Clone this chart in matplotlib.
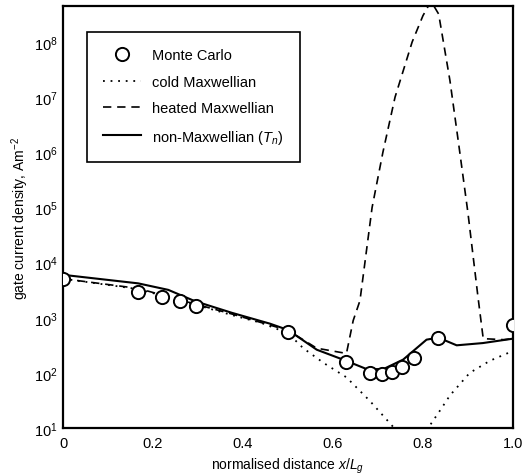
import matplotlib
matplotlib.use("Agg")
import matplotlib.pyplot as plt
from matplotlib.ticker import NullLocator, FixedLocator, FixedFormatter

plt.rcParams['font.family'] = ['Liberation Sans', 'DejaVu Sans']
plt.rcParams['mathtext.fontset'] = 'custom'
plt.rcParams['mathtext.rm'] = 'Liberation Sans'
plt.rcParams['mathtext.it'] = 'Liberation Sans:italic'

# Monte Carlo points
mc_x = [0.0, 0.167, 0.221, 0.26, 0.295, 0.50, 0.629, 0.682, 0.710, 0.732, 0.753, 0.78, 0.834, 1.0]
mc_y = [5000, 2900, 2400, 2000, 1660, 560, 155, 98, 95, 105, 129, 186, 436, 740]

# cold Maxwellian (dotted)
cold_x = [0.0, 0.167, 0.293, 0.375, 0.44, 0.5, 0.534, 0.58, 0.63, 0.682, 0.72, 0.74,
          0.78, 0.81, 0.84, 0.86, 0.904, 0.949, 1.0]
cold_y = [5100, 3300, 1740, 1120, 810, 525, 280, 150, 83, 31, 14, 9.2,
          7.5, 9.6, 22, 39, 100, 166, 250]

# heated Maxwellian (dashed)
heat_x = [0.0, 0.167, 0.293, 0.375, 0.5, 0.564, 0.63, 0.645, 0.66, 0.687, 0.711, 0.738,
          0.776, 0.80, 0.818, 0.835, 0.86, 0.88, 0.90, 0.922, 0.934, 0.98, 1.0]
heat_y = [5100, 3400, 1780, 1170, 590, 280, 225, 890, 2040, 1.0e5, 1.0e6, 1.0e7,
          1.0e8, 3.0e8, 5.5e8, 3.2e8, 2.0e7, 1.3e6, 8.0e4, 2500, 417, 400, 417]

# non-Maxwellian (T_n) (solid)
nonm_x = [0.0, 0.167, 0.234, 0.293, 0.375, 0.46, 0.5, 0.564, 0.629, 0.675, 0.712, 0.756,
          0.808, 0.834, 0.875, 0.933, 1.0]
nonm_y = [6000, 4200, 3200, 2000, 1230, 780, 600, 263, 166, 117, 117, 174,
          400, 436, 316, 347, 417]

x_ticks = [0, 0.2, 0.4, 0.6, 0.8, 1.0]
x_ticklabels = ['0', '0.2', '0.4', '0.6', '0.8', '1.0']
y_ticks = [1e1, 1e2, 1e3, 1e4, 1e5, 1e6, 1e7, 1e8]
y_ticklabels = [r'$10^{%d}$' % k for k in range(1, 9)]

fig = plt.figure(figsize=(5.25, 4.77), dpi=100)
ax = fig.add_axes([0.12, 0.1006, 0.857, 0.8844])

ax.plot(cold_x, cold_y, color='black', lw=1.3, linestyle=(0, (1, 3.2)),
        label='cold Maxwellian', zorder=2)
ax.plot(heat_x, heat_y, color='black', lw=1.2, linestyle=(0, (5, 3.5)),
        label='heated Maxwellian', zorder=2)
ax.plot(nonm_x, nonm_y, color='black', lw=1.5, linestyle='-',
        label='non-Maxwellian ($T_n$)', zorder=3)
ax.plot(mc_x, mc_y, linestyle='none', marker='o', markersize=9.5,
        markerfacecolor='white', markeredgecolor='black', markeredgewidth=1.4,
        label='Monte Carlo', zorder=4)

ax.set_yscale('log')
ax.set_xlim(0, 1.0)
ax.set_ylim(10, 10 ** 8.65)
ax.yaxis.set_major_locator(FixedLocator(y_ticks))
ax.yaxis.set_major_formatter(FixedFormatter(y_ticklabels))
ax.yaxis.set_minor_locator(NullLocator())
ax.set_xticks(x_ticks)
ax.set_xticklabels(x_ticklabels)
ax.tick_params(axis='x', length=0, labelsize=10.5, pad=6, colors='black')
ax.tick_params(axis='y', length=0, labelsize=10.5, pad=4, colors='black')

for s in ax.spines.values():
    s.set_linewidth(1.6)

ax.set_xlabel('normalised distance $x/L_g$', fontsize=10, labelpad=4)
ax.set_ylabel('gate current density, Am$^{-2}$', fontsize=10, labelpad=2)

handles, labels = ax.get_legend_handles_labels()
order = [3, 0, 1, 2]
leg = ax.legend([handles[i] for i in order], [labels[i] for i in order],
                loc='upper left', bbox_to_anchor=(0.053, 0.938), fancybox=False,
                edgecolor='black', framealpha=1, fontsize=10.5, handlelength=2.6,
                borderpad=1.1, labelspacing=0.85, handletextpad=0.8, borderaxespad=0)
leg.get_frame().set_linewidth(1.2)

fig.savefig('out.png', dpi=100)
